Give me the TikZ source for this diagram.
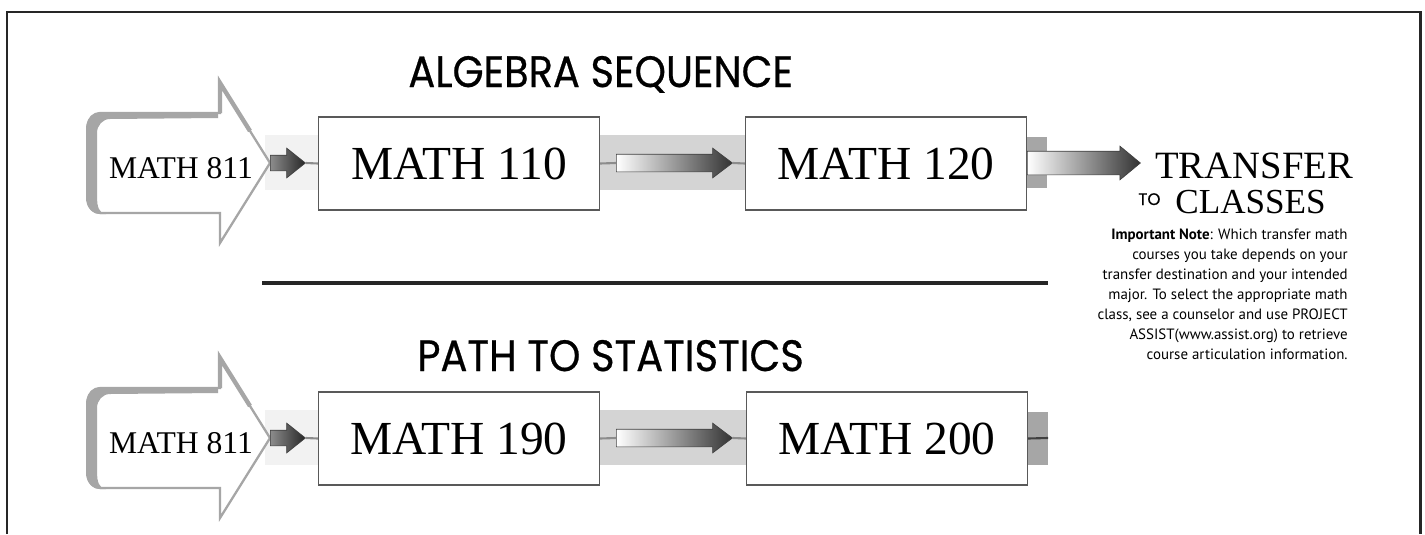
\documentclass[tikz,border=0pt]{standalone}
\usepackage{fontspec}
\setmainfont{Liberation Serif}
\newfontfamily\titolofont[FakeBold=0.6]{Poppins}
\newfontfamily\notafont{PT Sans}
\usetikzlibrary{shapes.arrows}

\begin{document}
\begin{tikzpicture}[x=0.02cm, y=-0.02cm,
    corso/.style={draw=black!65, line width=0.7pt, fill=white, minimum width=5.62cm,
        minimum height=1.86cm, inner sep=0pt, font=\fontsize{27}{30}\selectfont},
    freccia/.style={single arrow, draw=black!75, line width=0.4pt, left color=white,
        right color=black!80, inner xsep=0pt, minimum width=0pt, anchor=tail},
    scura/.style={freccia, left color=black!45, right color=black!85},
    legame/.style={draw=black!45, line width=1.2pt},
    titolo/.style={anchor=base west, inner sep=0pt, font=\titolofont\fontsize{25}{28}\selectfont},
    ingresso/.pic={
        \filldraw[fill=white, draw=black!35, line width=1.3pt] (-50,-80) -- (0,0) -- (-50,80) -- (-50,50)
            [rounded corners=7pt] -- (-182,50) -- (-182,-50) [sharp corners] -- (-50,-50) -- cycle;
        \fill[black!35] (-52,-51) -- (-168,-51) to[out=180,in=90] (-184,-35) -- (-184,35)
            to[out=-90,in=180] (-170,51) -- (-164,51) to[out=180,in=-90] (-173,35) -- (-173,-30)
            to[out=90,in=180] (-160,-44) -- (-52,-45) -- cycle;
        \draw[black!35, line width=2.5pt] (-50,-50) -- (-50,-80) -- (-20,-32);
    }]
    \useasboundingbox (0,0) rectangle (1425,534);

    % Cornice
    \draw[black!85, line width=1.7pt] (7,534) -- (7,12) -- (1420,12) -- (1420,534);

    % Titoli
    \node[titolo] (tit1) at (408,87) {\scalebox{0.91}[1]{ALGEBRA SEQUENCE}};
    \node[titolo] (tit2) at (417,371) {\scalebox{0.91}[1]{PATH TO STATISTICS}};

    % Riga di separazione
    \draw[black!85, line width=2.8pt] (262,283) -- (1048,283);

    % Bande grigie
    \fill[black!5] (265,135) rectangle (318,190);
    \fill[black!5] (265,410) rectangle (318,465);
    \fill[black!17] (600,135) rectangle (746,190);
    \fill[black!17] (600,410) rectangle (748,465);
    \fill[black!35] (1026,137) rectangle (1047,188);
    \fill[black!35] (1027,412) rectangle (1048,465);

    % Frecce di ingresso
    \pic at (270,163) {ingresso};
    \pic at (270,438) {ingresso};
    \node[font=\fontsize{18}{20}\selectfont] (m811a) at (181,168) {MATH 811};
    \node[font=\fontsize{18}{20}\selectfont] (m811b) at (181,443) {MATH 811};

    % Corsi
    \node[corso] (m110) at (459,163.5) {MATH 110};
    \node[corso] (m120) at (886,163.5) {MATH 120};
    \node[corso] (m190) at (459,438.5) {MATH 190};
    \node[corso] (m200) at (887,438.5) {MATH 200};

    % Sequenza di algebra
    \node[scura, minimum height=0.7cm, inner ysep=0.15cm, single arrow head extend=0.14cm,
        single arrow tip angle=77] (p1) at (270,163) {};
    \draw[legame] (p1.tip) -- (m110.west);
    \node[freccia, minimum height=2.32cm, inner ysep=0.17cm, single arrow head extend=0.12cm,
        single arrow tip angle=74] (f1) at (616,163) {};
    \draw[legame] (m110.east) -- (f1.tail);
    \draw[legame] (f1.tip) -- (m120.west);
    \node[freccia, minimum height=2.26cm, inner ysep=0.23cm, single arrow head extend=0.1cm,
        single arrow tip angle=79] (f2) at (1027,163) {};

    % Transfer
    \node[anchor=base west, inner sep=0pt, font=\fontsize{22}{24}\selectfont] (transfer) at (1155,178) {TRANSFER};
    \node[anchor=base west, inner sep=0pt, font=\titolofont\fontsize{9.5}{10}\selectfont] (to) at (1138,205) {TO};
    \node[anchor=base west, inner sep=0pt, font=\fontsize{20}{22}\selectfont] (classes) at (1175,213) {CLASSES};
    \node[anchor=north east, align=right, inner sep=0pt, font=\notafont\fontsize{8.5}{11.3}\selectfont] (nota) at (1348,229)
        {\textbf{Important Note}: Which transfer math\\
         courses you take depends on your\\
         transfer destination and your intended\\
         major. To select the appropriate math\\
         class, see a counselor and use PROJECT\\
         ASSIST(www.assist.org) to retrieve\\
         course articulation information.};

    % Percorso per statistica
    \node[scura, minimum height=0.7cm, inner ysep=0.15cm, single arrow head extend=0.14cm,
        single arrow tip angle=77] (p2) at (270,438) {};
    \draw[legame] (p2.tip) -- (m190.west);
    \node[freccia, minimum height=2.32cm, inner ysep=0.17cm, single arrow head extend=0.12cm,
        single arrow tip angle=74] (f3) at (616,438) {};
    \draw[legame] (m190.east) -- (f3.tail);
    \draw[legame] (f3.tip) -- (m200.west);
    \coordinate (fine) at (1048,438);
    \draw[black!75, line width=1.2pt] (m200.east) -- (fine);
\end{tikzpicture}
\end{document}
